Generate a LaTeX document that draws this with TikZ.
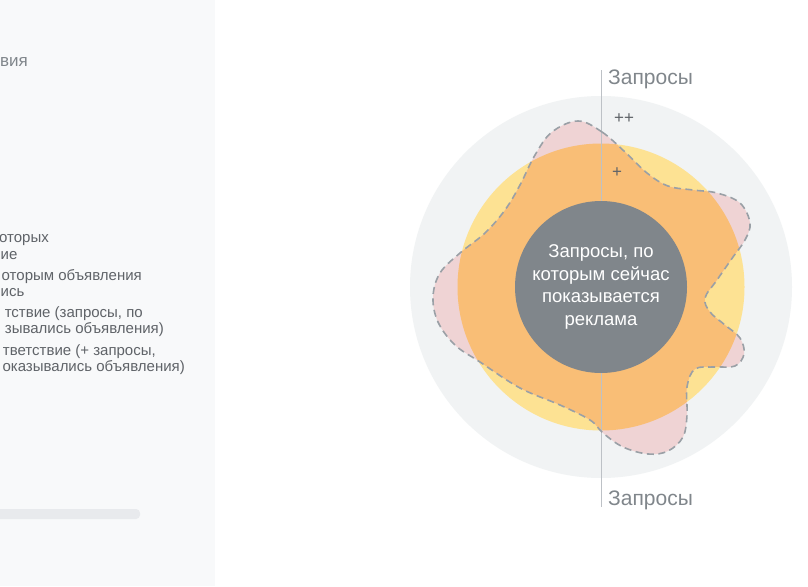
\documentclass[tikz,border=0pt]{standalone}
\usepackage{fontspec}
\setmainfont{Liberation Sans}
\definecolor{panelbg}{HTML}{F8F9FA}
\definecolor{outergray}{HTML}{F1F3F4}
\definecolor{ylw}{HTML}{FDE293}
\definecolor{blobpink}{HTML}{EFD3D4}
\definecolor{bloborange}{HTML}{F9BE76}
\definecolor{darkc}{HTML}{80868B}
\definecolor{txtgray}{HTML}{80868B}
\definecolor{txtdark}{HTML}{5F6368}
\definecolor{linegray}{HTML}{BDC1C6}
\definecolor{dashgray}{HTML}{9AA0A6}
\definecolor{scrollc}{HTML}{E8EAED}
\tikzset{
  legendtxt/.style={anchor=east, inner sep=0pt, text=txtdark, font=\fontsize{15}{17}\selectfont},
  axislabel/.style={anchor=west, inner sep=0pt, text=txtgray, font=\fontsize{21}{24}\selectfont},
  plusmark/.style={inner sep=0pt, text=txtdark, font=\fontsize{17}{19}\selectfont},
  blobborder/.style={draw=dashgray, line width=1.6pt, dash pattern=on 7pt off 4.5pt}
}
\newcommand{\blobpath}{plot[smooth cycle, tension=0.6] coordinates {
(578,121) (602,132) (625,152) (647,173) (668,186) (693,190) (717,193) (740,203)
(750,223) (745,240) (733,257) (717,280) (705,298) (710,312) (725,325) (740,338)
(744,354) (735,366) (715,367) (695,369) (687,387) (687,415) (683,437) (668,451)
(648,454) (623,447) (603,433) (590,420) (560,405) (520,388) (480,362) (455,345)
(438,322) (433,297) (440,273) (460,253) (485,233) (505,210) (520,185) (535,155)
(552,132)}}
\begin{document}
\begin{tikzpicture}[x=1pt, y=-1pt]
\useasboundingbox (0,0) rectangle (808,586);
% background
\fill[white] (0,0) rectangle (808,586);
\fill[panelbg] (0,0) rectangle (215,586);
% left panel texts
\node[anchor=east, inner sep=0pt, text=txtgray, font=\fontsize{17}{19}\selectfont] (t0) at (28,62) {вия};
\node[legendtxt] (l1) at (49,240) {оторых};
\node[legendtxt, anchor=west] (l2) at (0.5,256) {ие};
\node[legendtxt] (l3) at (142,277) {оторым объявления};
\node[legendtxt, anchor=west] (l4) at (0.5,293) {ись};
\node[legendtxt] (l5) at (143,314) {тствие (запросы, по};
\node[legendtxt] (l6) at (164,330) {зывались объявления)};
\node[legendtxt] (l7) at (156,352) {тветствие (+ запросы,};
\node[legendtxt] (l8) at (185,368) {оказывались объявления)};
% scrollbar
\fill[scrollc, rounded corners=4pt] (-10,509) rectangle (140,519);
% diagram
\coordinate (c) at (601,287);
\fill[outergray] (c) circle[radius=191pt];
\fill[ylw] (c) circle[radius=143.5pt];
\fill[blobpink] \blobpath;
\begin{scope}
  \clip (c) circle[radius=143.5pt];
  \fill[bloborange] \blobpath;
\end{scope}
\coordinate (vtop) at (601,70);
\coordinate (vbot) at (601,507);
\draw[linegray, line width=1pt] (vtop) -- (vbot);
\draw[blobborder] \blobpath;
\node[circle, fill=darkc, minimum size=172pt, inner sep=0pt, text=white, align=center,
      font=\fontsize{18.5}{22.5}\selectfont] (core) at (c)
  {Запросы, по\\которым сейчас\\показывается\\реклама};
\node[axislabel] (qtop) at (608,79) {Запросы};
\node[axislabel] (qbot) at (608,500) {Запросы};
\node[plusmark] (pp) at (624,119) {++};
\node[plusmark] (p) at (617,173) {+};
\end{tikzpicture}
\end{document}
